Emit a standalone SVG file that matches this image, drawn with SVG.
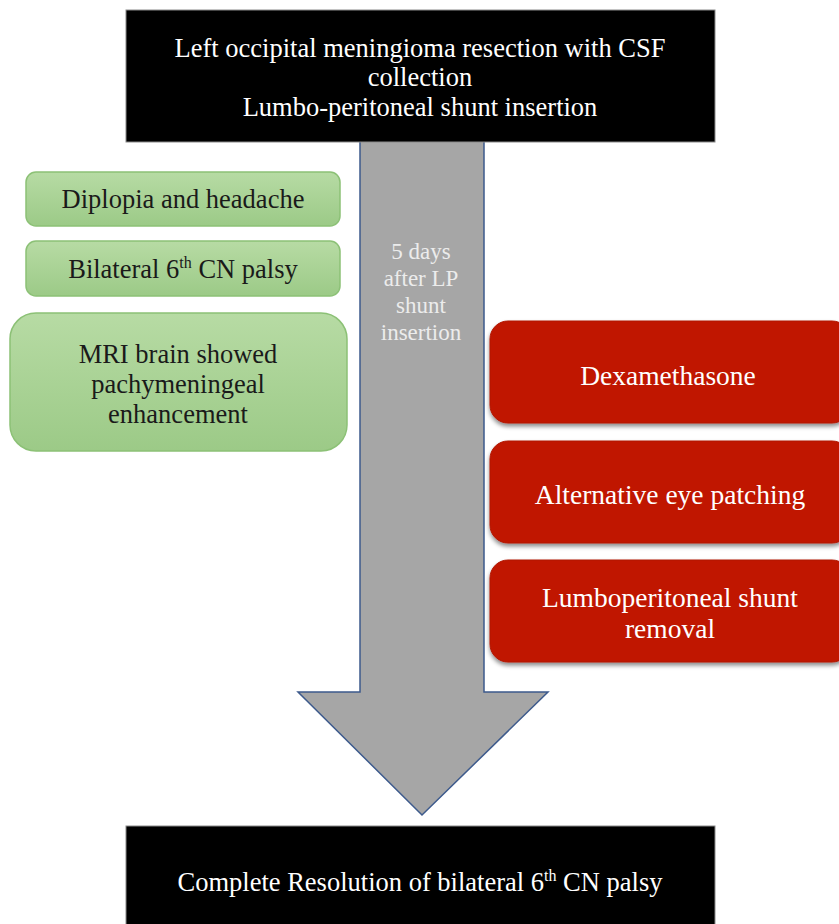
<svg xmlns="http://www.w3.org/2000/svg" width="839" height="924" viewBox="0 0 839 924">
<style>
text{font-family:"Liberation Serif","Times New Roman",serif;text-anchor:middle;font-size:26.5px}
.w{fill:#ffffff}
.k{fill:#1a1a1a}
.a{fill:#ececec;font-size:23px}
.r{font-size:27.5px}
.blk{fill:#000000;stroke:#8a8a8a;stroke-width:1}
.grn{fill:url(#g);stroke:#8cc176;stroke-width:1.5}
.red{fill:#c01900;stroke:#b01500;stroke-width:1;filter:url(#sh)}
</style>
<defs>
<linearGradient id="g" x1="0" y1="0" x2="0" y2="1">
<stop offset="0" stop-color="#b7dba4"/>
<stop offset="1" stop-color="#9cca87"/>
</linearGradient>
<filter id="sh" x="-5%" y="-5%" width="110%" height="120%">
<feDropShadow dx="0" dy="3" stdDeviation="2" flood-color="#000" flood-opacity="0.45"/>
</filter>
</defs>
<rect width="839" height="924" fill="#ffffff"/>
<g id="connectors">
<path d="M360,140 L484,140 L484,692 L548,692 L422,815 L298,692 L360,692 Z" fill="#a6a6a6" stroke="#3d5a8c" stroke-width="1.5"/>
<text class="a" x="421" y="259">5 days</text>
<text class="a" x="421" y="286">after LP</text>
<text class="a" x="421" y="313">shunt</text>
<text class="a" x="421" y="340">insertion</text>
</g>
<g id="top">
<rect class="blk" x="126" y="10" width="589" height="132"/>
<text class="w" x="420" y="57">Left occipital meningioma resection with CSF</text>
<text class="w" x="420" y="86">collection</text>
<text class="w" x="420" y="116">Lumbo-peritoneal shunt insertion</text>
</g>
<g id="diplopia">
<rect class="grn" x="26" y="172" width="314" height="54" rx="10"/>
<text class="k" x="183" y="208">Diplopia and headache</text>
</g>
<g id="palsy">
<rect class="grn" x="26" y="241" width="314" height="55" rx="10"/>
<text class="k" x="183" y="278">Bilateral 6<tspan font-size="16" dy="-10">th</tspan><tspan dy="10"> CN palsy</tspan></text>
</g>
<g id="mri">
<rect class="grn" x="10" y="313" width="337" height="138" rx="26"/>
<text class="k" x="178" y="363">MRI brain showed</text>
<text class="k" x="178" y="393">pachymeningeal</text>
<text class="k" x="178" y="423">enhancement</text>
</g>
<g id="dexa">
<rect class="red" x="490" y="321" width="360" height="102" rx="18"/>
<text class="w r" x="668" y="385">Dexamethasone</text>
</g>
<g id="patch">
<rect class="red" x="490" y="441" width="360" height="102" rx="18"/>
<text class="w r" x="670" y="504">Alternative eye patching</text>
</g>
<g id="removal">
<rect class="red" x="490" y="560" width="360" height="102" rx="18"/>
<text class="w r" x="670" y="607">Lumboperitoneal  shunt</text>
<text class="w r" x="670" y="638">removal</text>
</g>
<g id="bottom">
<rect class="blk" x="126" y="826" width="589" height="110"/>
<text class="w" x="420" y="891">Complete Resolution of bilateral 6<tspan font-size="16" dy="-10">th</tspan><tspan dy="10"> CN palsy</tspan></text>
</g>
</svg>
